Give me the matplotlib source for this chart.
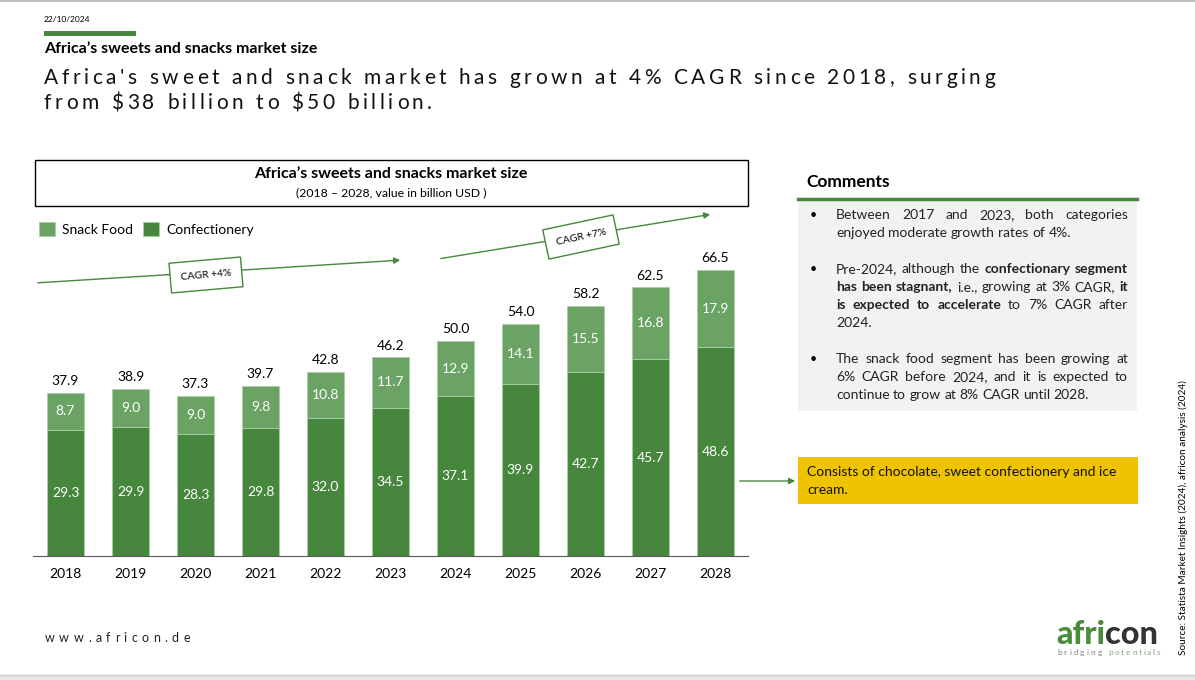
import matplotlib
matplotlib.use("Agg")
import matplotlib.pyplot as plt
from matplotlib.patches import Rectangle, FancyArrowPatch

# ---- data ----
years = ['2018', '2019', '2020', '2021', '2022', '2023', '2024', '2025', '2026', '2027', '2028']
confectionery = [29.3, 29.9, 28.3, 29.8, 32.0, 34.5, 37.1, 39.9, 42.7, 45.7, 48.6]
snack_food = [8.7, 9.0, 9.0, 9.8, 10.8, 11.7, 12.9, 14.1, 15.5, 16.8, 17.9]
totals = [37.9, 38.9, 37.3, 39.7, 42.8, 46.2, 50.0, 54.0, 58.2, 62.5, 66.5]
series_names = ['Snack Food', 'Confectionery']
cagr_labels = ['CAGR +4%', 'CAGR +7%']

headline = ["Africa's sweet and snack market has grown at 4% CAGR since 2018, surging",
            "from $38 billion to $50 billion."]

# comments: each paragraph is a list of lines, each line a list of (word, bold)
def words(s, bold=False):
    return [(w, bold) for w in s.split()]

comments = [
    [words("Between 2017 and 2023, both categories"),
     words("enjoyed moderate growth rates of 4%.")],
    [words("Pre-2024, although the") + words("confectionary segment", True),
     words("has been stagnant,", True) + words("i.e., growing at 3% CAGR,") + words("it", True),
     words("is expected to accelerate", True) + words("to 7% CAGR after"),
     words("2024.")],
    [words("The snack food segment has been growing at"),
     words("6% CAGR before 2024, and it is expected to"),
     words("continue to grow at 8% CAGR until 2028.")],
]
note = ["Consists of chocolate, sweet confectionery and ice", "cream."]

DARK = '#46873D'
LIGHT = '#6AA364'
W, H = 1195, 680
FONT = 'Lato'
plt.rcParams['font.family'] = [FONT, 'DejaVu Sans']

fig = plt.figure(figsize=(W / 100, H / 100), dpi=100)
bg = fig.add_axes([0, 0, 1, 1])
bg.set_xlim(0, W)
bg.set_ylim(H, 0)
bg.axis('off')
renderer = fig.canvas.get_renderer()


def text_width(s, **kw):
    t = bg.text(0, 0, s, **kw)
    w = t.get_window_extent(renderer).width
    t.remove()
    return w


def char_width(c, **kw):
    return text_width('|' + c + '|', **kw) - text_width('||', **kw)


def tracked(x, y, s, width=None, tracking=None, **kw):
    # draws text letter by letter with extra spacing, y is the baseline
    ws = [char_width(c, **kw) for c in s]
    if tracking is None:
        tracking = (width - sum(ws)) / (len(s) - 1)
    for c, w in zip(s, ws):
        bg.text(x, y, c, va='baseline', ha='left', **kw)
        x += w + tracking
    return tracking


def line_words(x0, x1, y, wl, justify, size):
    ws = [text_width(w, fontsize=size, fontweight='bold' if b else 'normal') for w, b in wl]
    sp = char_width(' ', fontsize=size)
    if justify and len(wl) > 1:
        sp = (x1 - x0 - sum(ws)) / (len(wl) - 1)
    x = x0
    for (w, b), wd in zip(wl, ws):
        bg.text(x, y, w, fontsize=size, fontweight='bold' if b else 'normal',
                va='baseline', ha='left', color='#222222')
        x += wd + sp


# ---- page frame ----
bg.plot([0, W], [1, 1], color='#BFBFBF', lw=1.5)
bg.add_patch(Rectangle((0, 675), W, 5, color='#E7E7E7', lw=0))
bg.plot([0, W], [675, 675], color='#C8C8C8', lw=1)

# ---- header ----
bg.text(44, 20, '22/10/2024', fontsize=6, va='center')
bg.add_patch(Rectangle((44, 31), 92, 4.5, color=DARK, lw=0))
bg.text(44, 49, 'Africa\u2019s sweets and snacks market size', fontsize=11.5,
        fontweight='bold', va='center')
tr = tracked(44, 84, headline[0], width=951, fontsize=15, color='#111111')
tracked(44, 109, headline[1], tracking=tr, fontsize=15, color='#111111')

# ---- chart title box ----
bg.add_patch(Rectangle((35, 160), 713, 46, fill=False, ec='black', lw=1))
bg.text(391, 174, 'Africa\u2019s sweets and snacks market size', fontsize=11.5,
        fontweight='bold', ha='center', va='center')
bg.text(391, 193, '(2018 \u2013 2028, value in billion USD )', fontsize=8.8,
        ha='center', va='center')

# ---- CAGR arrows ----
for (x0, y0, x1, y1), (bx, by, rot), lab in zip(
        [(35, 283, 403, 260), (438, 259, 713, 214)],
        [(206, 275, 5), (581, 237, 12)], cagr_labels):
    bg.add_patch(FancyArrowPatch((x0, y0), (x1, y1), arrowstyle='-|>',
                                 mutation_scale=9, color=DARK, lw=1))
    bg.text(bx, by, lab, fontsize=7.5, rotation=rot, ha='center', va='center',
            rotation_mode='anchor',
            bbox=dict(boxstyle='square,pad=1.0', fc='white', ec=DARK, lw=1))

# ---- bar chart ----
ax = fig.add_axes([33 / W, 1 - 556 / H, (748 - 33) / W, (556 - 200) / H])
ax.patch.set_alpha(0)
x = list(range(len(years)))
b1 = ax.bar(x, confectionery, width=0.57, color=DARK, edgecolor='#A9CDA4', lw=0.6)
b2 = ax.bar(x, snack_food, bottom=confectionery, width=0.57, color=LIGHT,
            edgecolor='#A9CDA4', lw=0.6)
for i in x:
    ax.text(i, confectionery[i] / 2, f'{confectionery[i]:.1f}', color='white',
            ha='center', va='center', fontsize=10)
    ax.text(i, confectionery[i] + snack_food[i] / 2, f'{snack_food[i]:.1f}',
            color='white', ha='center', va='center', fontsize=10)
    ax.annotate(f'{totals[i]:.1f}', (i, totals[i]), xytext=(0, 4),
                textcoords='offset points', ha='center', va='bottom', fontsize=10)
ax.set_xlim(-0.5, len(years) - 0.5)
ax.set_ylim(0, 356 / 4.3)
ax.set_xticks(x, years, fontsize=10)
ax.tick_params(axis='x', length=0, pad=9)
ax.set_yticks([])
for s in ['top', 'right', 'left']:
    ax.spines[s].set_visible(False)
ax.spines['bottom'].set_color('#595959')

fig.legend([b2, b1], series_names, loc='center left',
           bbox_to_anchor=(26 / W, 1 - 229 / H), ncol=2, frameon=False,
           handlelength=1.2, handleheight=1.2, handletextpad=0.5,
           columnspacing=0.7, fontsize=10)

# ---- comments panel ----
bg.text(806, 182, 'Comments', fontsize=12.5, fontweight='bold', va='center')
bg.add_patch(Rectangle((798, 200), 339, 211, color='#F2F2F2', lw=0))
bg.plot([798, 1137], [199, 199], color=DARK, lw=2.5)
y = 219
for para in comments:
    bg.text(810, y, '\u2022', fontsize=9, va='baseline')
    for j, wl in enumerate(para):
        line_words(836, 1128, y, wl, j < len(para) - 1, 10)
        y += 18
    y += 18

bg.add_patch(Rectangle((798, 457), 340, 47, color='#F0C300', lw=0))
for k, ln in enumerate(note):
    bg.text(807, 476 + 18 * k, ln, fontsize=10, va='baseline', color='#111111')
bg.add_patch(FancyArrowPatch((737, 481), (798, 481), arrowstyle='-|>',
                             mutation_scale=9, color=DARK, lw=1))

# ---- footer ----
bg.text(1183, 655, 'Source: Statista Market Insights (2024), africon analysis (2024)',
        rotation=90, fontsize=7.2, ha='center', va='bottom')
tracked(45, 642, 'www.africon.de', width=145, fontsize=9, color='#222222')

logo_kw = dict(fontweight='black')
size = 20 * 102 / text_width('africon', fontsize=20, **logo_kw)
wa = text_width('afri', fontsize=size, **logo_kw)
bg.text(1056, 644, 'afri', fontsize=size, color='#4A8B3C', va='baseline', **logo_kw)
bg.text(1056 + wa, 644, 'con', fontsize=size, color='#333333', va='baseline', **logo_kw)
tr2 = tracked(1057, 655, 'bridging ', width=49, fontsize=6, color='#808080')
tracked(1057 + 49 + tr2, 655, 'potentials', width=52, fontsize=6, color='#7FA77A')

fig.savefig('out.png', dpi=100)
